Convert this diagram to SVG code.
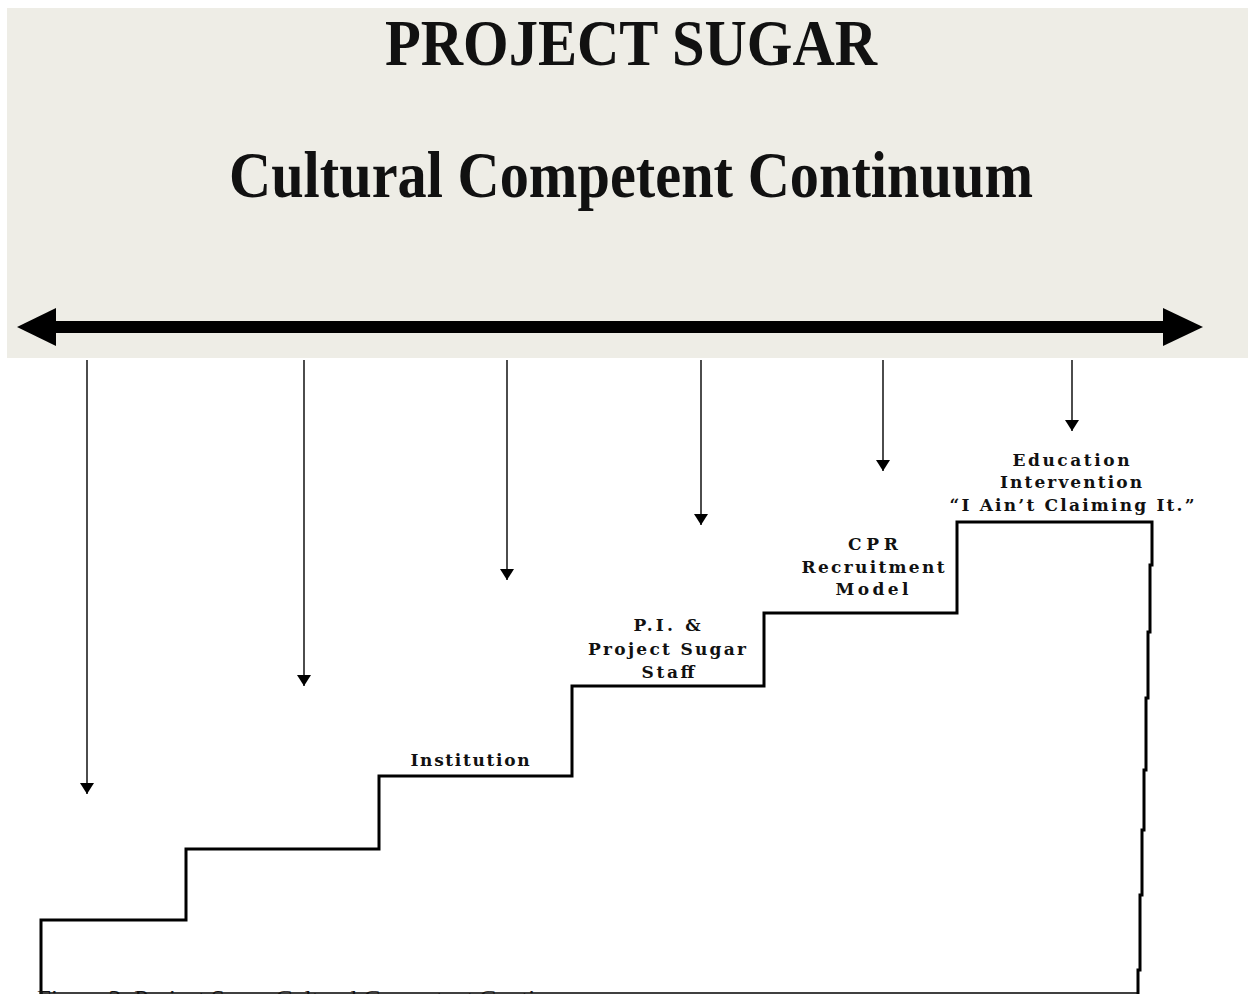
<svg xmlns="http://www.w3.org/2000/svg" width="1248" height="994" viewBox="0 0 1248 994">
<style>
.title{font-family:"Liberation Serif","Times New Roman",serif;font-weight:bold;fill:#111;}
.lbl{font-family:"DejaVu Serif","Liberation Serif",serif;font-weight:bold;font-size:17px;fill:#111;text-anchor:middle;}
.cap{font-family:"Liberation Serif","Times New Roman",serif;font-size:22px;fill:#111;}
.ptr{stroke:#000;stroke-width:1.4;fill:none;}
.stair{stroke:#000;stroke-width:3;fill:none;stroke-linejoin:miter;}
</style>
<defs>
<marker id="ah" viewBox="0 0 14 11" refX="7" refY="11" markerWidth="14" markerHeight="11" markerUnits="userSpaceOnUse" orient="0">
<path d="M0,0 L14,0 L7,11 Z" fill="#000"/>
</marker>
</defs>
<rect width="1248" height="994" fill="#ffffff"/>
<g id="header">
<rect x="7" y="8" width="1241" height="350" fill="#eeede6"/>
<text class="title" x="631" y="65" font-size="66" text-anchor="middle" textLength="492" lengthAdjust="spacingAndGlyphs">PROJECT SUGAR</text>
<text class="title" x="631" y="197" font-size="66" text-anchor="middle" textLength="804" lengthAdjust="spacingAndGlyphs">Cultural Competent Continuum</text>
</g>
<g id="continuum-arrow">
<rect x="54" y="321" width="1112" height="12" fill="#000"/>
<path d="M17,327 L56,308 L56,346 Z" fill="#000"/>
<path d="M1203,327 L1163,308 L1163,346 Z" fill="#000"/>
</g>
<g id="connectors">
<line class="ptr" x1="87" y1="360" x2="87" y2="794" marker-end="url(#ah)"/>
<line class="ptr" x1="304" y1="360" x2="304" y2="686" marker-end="url(#ah)"/>
<line class="ptr" x1="507" y1="360" x2="507" y2="580" marker-end="url(#ah)"/>
<line class="ptr" x1="701" y1="360" x2="701" y2="525" marker-end="url(#ah)"/>
<line class="ptr" x1="883" y1="360" x2="883" y2="471" marker-end="url(#ah)"/>
<line class="ptr" x1="1072" y1="360" x2="1072" y2="431" marker-end="url(#ah)"/>
</g>
<g id="staircase">
<polyline class="stair" points="41,994 41,920 186,920 186,849 379,849 379,776 572,776 572,686 764,686 764,613 957,613 957,522 1152,522 1152,565 1150,565 1150,632 1148,632 1148,698 1146,698 1146,770 1144,770 1144,830 1142,830 1142,895 1140,895 1140,970 1138,970 1138,994"/>
<line x1="41" y1="993" x2="1138" y2="993" stroke="#000" stroke-width="1.5"/>
</g>
<g id="step-institution">
<text class="lbl" x="470" y="766" textLength="119" lengthAdjust="spacing">Institution</text>
</g>
<g id="step-pi-staff">
<text class="lbl" x="667" y="631" textLength="67" lengthAdjust="spacing">P.I. &amp;</text>
<text class="lbl" x="667" y="655" textLength="158" lengthAdjust="spacing">Project Sugar</text>
<text class="lbl" x="668" y="678" textLength="53" lengthAdjust="spacing">Staff</text>
</g>
<g id="step-cpr">
<text class="lbl" x="873" y="550" textLength="50" lengthAdjust="spacing">CPR</text>
<text class="lbl" x="873" y="573" textLength="143" lengthAdjust="spacing">Recruitment</text>
<text class="lbl" x="872" y="595" textLength="73" lengthAdjust="spacing">Model</text>
</g>
<g id="step-education">
<text class="lbl" x="1071" y="466" textLength="117" lengthAdjust="spacing">Education</text>
<text class="lbl" x="1071" y="488" textLength="142" lengthAdjust="spacing">Intervention</text>
<text class="lbl" x="1072" y="511" textLength="245" lengthAdjust="spacing">“I Ain’t Claiming It.”</text>
</g>
<g id="caption">
<text class="cap" x="37" y="1005" textLength="555" lengthAdjust="spacingAndGlyphs">Figure 3: Project Sugar Cultural Competent Continuum</text>
</g>
</svg>
